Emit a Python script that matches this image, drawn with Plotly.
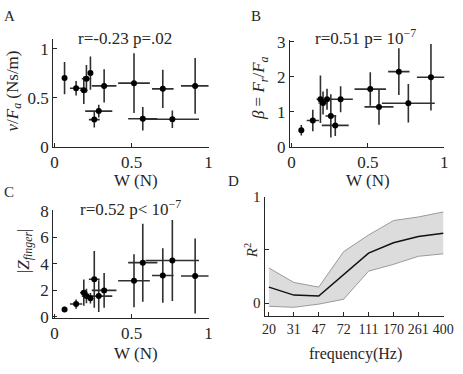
import plotly.graph_objects as go
from plotly.subplots import make_subplots

# force W (N) per subject, shared by panels A-C
w = [0.065, 0.14, 0.19, 0.207, 0.233, 0.258, 0.287, 0.322, 0.516, 0.573, 0.703, 0.765, 0.913]
w_err = [0.005, 0.04, 0.025, 0.03, 0.01, 0.035, 0.088, 0.08, 0.103, 0.095, 0.07, 0.173, 0.092]

# panel A: v/Fa
damping = [0.70, 0.596, 0.576, 0.693, 0.751, 0.276, 0.363, 0.62, 0.648, 0.285, 0.59, 0.28, 0.62]
damping_err = [0.165, 0.075, 0.14, 0.14, 0.17, 0.08, 0.065, 0.17, 0.305, 0.12, 0.195, 0.09, 0.285]

# panel B: beta = Fr/Fa
beta = [0.47, 0.75, 1.36, 1.25, 1.36, 0.88, 0.61, 1.36, 1.65, 1.14, 2.15, 1.245, 1.99]
beta_err = [0.15, 0.31, 0.68, 0.33, 0.30, 0.62, 0.30, 0.37, 0.48, 0.51, 0.67, 0.55, 0.95]

# panel C: |Z finger|
z_finger = [0.55, 0.96, 1.82, 1.56, 1.39, 2.83, 1.56, 1.99, 2.72, 4.09, 3.12, 4.25, 3.08]
z_finger_err = [0.2, 0.35, 1.0, 0.55, 0.4, 2.15, 1.2, 1.32, 2.0, 2.95, 2.07, 3.07, 2.83]

# panel D: R^2 vs frequency
freq_labels = ['20', '31', '47', '72', '111', '170', '261', '400']
r2_mean = [0.15, 0.075, 0.066, 0.27, 0.47, 0.567, 0.627, 0.657]
r2_upper = [0.33, 0.194, 0.15, 0.484, 0.64, 0.776, 0.81, 0.857]
r2_lower = [-0.03, -0.04, -0.01, 0.036, 0.30, 0.364, 0.44, 0.463]

W, H = 463, 374
FONT = 'Liberation Serif'
INK = '#262626'


def px_x(p):
    return p / W


def px_y(p):
    return 1 - p / H


fig = make_subplots(rows=2, cols=2)

panels = [(damping, damping_err, 1, 1), (beta, beta_err, 1, 2), (z_finger, z_finger_err, 2, 1)]
for yv, ye, r, c in panels:
    fig.add_trace(go.Scatter(
        x=w, y=yv, mode='markers',
        marker=dict(color='black', size=6),
        error_x=dict(type='data', array=w_err, color='#303030', thickness=1.6, width=0),
        error_y=dict(type='data', array=ye, color='#303030', thickness=1.6, width=0),
        showlegend=False), row=r, col=c)

xi = list(range(len(freq_labels)))
fig.add_trace(go.Scatter(x=xi, y=r2_lower, mode='lines', line=dict(color='#9a9a9a', width=1),
                         showlegend=False), row=2, col=2)
fig.add_trace(go.Scatter(x=xi, y=r2_upper, mode='lines', line=dict(color='#9a9a9a', width=1),
                         fill='tonexty', fillcolor='#dcdcdc', showlegend=False), row=2, col=2)
fig.add_trace(go.Scatter(x=xi, y=r2_mean, mode='lines', line=dict(color='#111111', width=1.5),
                         showlegend=False), row=2, col=2)

axis_style = dict(showline=True, linecolor=INK, linewidth=1, ticks='inside', ticklen=4,
                  tickcolor=INK, showgrid=False, zeroline=False,
                  tickfont=dict(family=FONT, size=17, color=INK))

fig.update_xaxes(**axis_style)
fig.update_yaxes(**axis_style)

fig.update_layout(
    width=W, height=H, margin=dict(l=0, r=0, t=0, b=0),
    plot_bgcolor='white', paper_bgcolor='white',
    xaxis=dict(domain=[px_x(51.5), px_x(211)], range=[-0.009, 1.0], tickvals=[0, 0.5, 1],
               ticktext=['0', '0.5', '1']),
    yaxis=dict(domain=[px_y(146), px_y(32.4)], range=[-0.003, 1.1], tickvals=[0, 0.5, 1],
               ticktext=['0', '0.5', '1']),
    xaxis2=dict(domain=[px_x(294.5), px_x(453)], range=[-0.01, 1.0], tickvals=[0, 0.5, 1],
                ticktext=['0', '0.5', '1']),
    yaxis2=dict(domain=[px_y(146), px_y(33.5)], range=[-0.008, 3.06], tickvals=[0, 1, 2, 3]),
    xaxis3=dict(domain=[px_x(51.5), px_x(211)], range=[-0.009, 1.0], tickvals=[0, 0.5, 1],
                ticktext=['0', '0.5', '1']),
    yaxis3=dict(domain=[px_y(325.7), px_y(212.3)], range=[-0.1, 8.07], tickvals=[0, 2, 4, 6, 8]),
    xaxis4=dict(domain=[px_x(268.5), px_x(453)], range=[-0.176, 7.04], tickvals=xi,
                ticktext=freq_labels, tickangle=0, tickfont=dict(size=14)),
    yaxis4=dict(domain=[px_y(323.5), px_y(198.3)], range=[-0.121, 1.0], tickvals=[0, 0.5, 1],
                ticktext=['0', '', '1'], tickfont=dict(size=15)),
)

notes = [
    ('A', 7, 8, 0, 15), ('B', 260, 8, 0, 15), ('C', 6, 193, 0, 15), ('D', 237, 182, 0, 15),
    ('r=-0.23 p=.02', 125, 32, 0, 17), ('r=0.51 p= 10<sup>−7</sup>', 372, 30, 0, 17),
    ('r=0.52 p< 10<sup>−7</sup>', 131, 210, 0, 17),
    ('W (N)', 137, 181, 0, 17), ('W (N)', 375, 181, 0, 17), ('W (N)', 137, 363, 0, 17),
    ('frequency(Hz)', 362, 364, 0, 16),
    ('<i>v</i>/<i>F<sub>a</sub></i> (Ns/m)', 11, 87, -90, 17),
    ('<i>β</i> = <i>F<sub>r</sub></i>/<i>F<sub>a</sub></i>', 264, 84, -90, 17),
    ('|<i>Z<sub>finger</sub></i>|', 22, 255, -90, 17),
    ('<i>R</i><sup>2</sup>', 254, 255, -90, 15),
]
for txt, x, y, ang, size in notes:
    fig.add_annotation(text=txt, x=px_x(x), y=px_y(y), xref='paper', yref='paper',
                       xanchor='center', yanchor='middle', showarrow=False, textangle=ang,
                       font=dict(family=FONT, size=size, color=INK))

fig.write_html("out.html", config={'displayModeBar': False},
               post_script="document.body.style.margin='0';")
